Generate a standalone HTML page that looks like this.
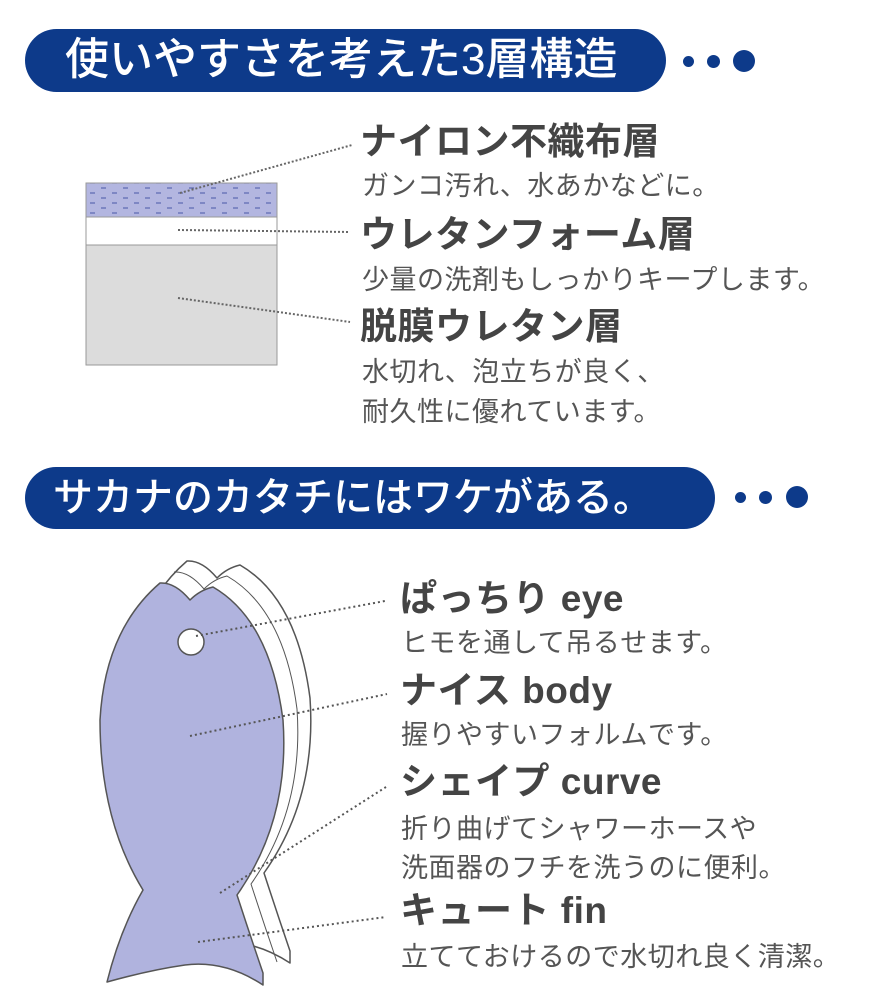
<!DOCTYPE html>
<html><head><meta charset="utf-8"><style>
body{margin:0;width:892px;height:1000px;background:#fff;position:relative;overflow:hidden;font-family:"Liberation Sans","Noto Sans CJK JP",sans-serif}
.pill{position:absolute;background:#0d3a8a;border-radius:32px;color:#fff;font-size:44px;line-height:62px;padding-left:40px;box-sizing:border-box;letter-spacing:0px;font-weight:500;white-space:nowrap}
.dot{position:absolute;background:#0d3a8a;border-radius:50%}
.h{position:absolute;font-size:37px;font-weight:bold;color:#444;white-space:nowrap;line-height:40px;letter-spacing:0.5px}
.s{position:absolute;font-size:27px;color:#555;white-space:nowrap;line-height:30px;letter-spacing:0.5px}
</style></head><body>
<div class="pill" style="left:25px;top:29px;width:641px;height:63px">使いやすさを考えた3層構造</div>
<div class="dot" style="left:683px;top:56px;width:11px;height:11px"></div>
<div class="dot" style="left:707px;top:55px;width:13px;height:13px"></div>
<div class="dot" style="left:733px;top:50px;width:22px;height:22px"></div>
<div class="pill" style="left:25px;top:467px;width:690px;height:62px;font-size:40px;padding-left:28px">サカナのカタチにはワケがある。</div>
<div class="dot" style="left:735px;top:492px;width:11px;height:11px"></div>
<div class="dot" style="left:759px;top:491px;width:13px;height:13px"></div>
<div class="dot" style="left:786px;top:486px;width:22px;height:22px"></div>

<svg style="position:absolute;left:0;top:0" width="892" height="1000">
<defs><pattern id="p" width="22" height="10" patternUnits="userSpaceOnUse"><line x1="2" y1="3" x2="7" y2="3" stroke="#5a67b0" stroke-width="1.2"/><line x1="13" y1="8" x2="18" y2="8" stroke="#5a67b0" stroke-width="1.2"/></pattern></defs>
<rect x="86" y="183" width="191" height="182" fill="#dcdcdc" stroke="#999"/>
<rect x="86" y="183" width="191" height="34" fill="#b3b6e0"/>
<rect x="86" y="183" width="191" height="34" fill="url(#p)"/>
<rect x="86" y="217" width="191" height="28" fill="#fff" stroke="#999"/>
<rect x="86" y="183" width="191" height="182" fill="none" stroke="#999"/>
<g stroke="#666" stroke-width="2" stroke-dasharray="2,2" fill="none">
<line x1="180" y1="193" x2="352" y2="145"/>
<line x1="178" y1="230" x2="350" y2="232"/>
<line x1="178" y1="298" x2="350" y2="322"/>
</g>
<g stroke="#555" stroke-width="1.5" stroke-linejoin="round">
<path transform="translate(27,-22)" d="M160 583 Q175 582 190 600 Q200 590 213 587 Q270 620 283 720 Q290 820 237 895 Q250 935 263 973 L263 985 Q225 960 185 965 Q150 970 107 982 Q120 930 143 890 Q100 820 100 720 Q105 630 160 583 Z" fill="#fff"/>
<path transform="translate(14,-11)" d="M160 583 Q175 582 190 600 Q200 590 213 587 Q270 620 283 720 Q290 820 237 895 Q250 935 263 973" fill="none" stroke-width="1"/>
<path d="M160 583 Q175 582 190 600 Q200 590 213 587 Q270 620 283 720 Q290 820 237 895 Q250 935 263 973 L263 985 Q225 960 185 965 Q150 970 107 982 Q120 930 143 890 Q100 820 100 720 Q105 630 160 583 Z" fill="#b0b3de" stroke="#555"/>
<circle cx="191" cy="642" r="13" fill="#fff" stroke="#555"/>
</g>
<g stroke="#555" stroke-width="2" stroke-dasharray="2,3" fill="none">
<line x1="196" y1="636" x2="385" y2="601"/>
<line x1="190" y1="736" x2="387" y2="694"/>
<line x1="220" y1="893" x2="386" y2="787"/>
<line x1="198" y1="942" x2="386" y2="917"/>
</g>
</svg>

<div class="h" style="left:360px;top:122px">ナイロン不織布層</div>
<div class="s" style="left:362px;top:171px">ガンコ汚れ、水あかなどに。</div>
<div class="h" style="left:360px;top:215px">ウレタンフォーム層</div>
<div class="s" style="left:362px;top:265px">少量の洗剤もしっかりキープします。</div>
<div class="h" style="left:360px;top:307px">脱膜ウレタン層</div>
<div class="s" style="left:362px;top:357px">水切れ、泡立ちが良く、</div>
<div class="s" style="left:362px;top:397px">耐久性に優れています。</div>

<div class="h" style="left:400px;top:579px">ぱっちり eye</div>
<div class="s" style="left:401px;top:628px">ヒモを通して吊るせます。</div>
<div class="h" style="left:400px;top:671px">ナイス body</div>
<div class="s" style="left:401px;top:720px">握りやすいフォルムです。</div>
<div class="h" style="left:400px;top:762px">シェイプ curve</div>
<div class="s" style="left:401px;top:814px">折り曲げてシャワーホースや</div>
<div class="s" style="left:401px;top:853px">洗面器のフチを洗うのに便利。</div>
<div class="h" style="left:400px;top:891px">キュート fin</div>
<div class="s" style="left:401px;top:942px">立てておけるので水切れ良く清潔。</div>
</body></html>
